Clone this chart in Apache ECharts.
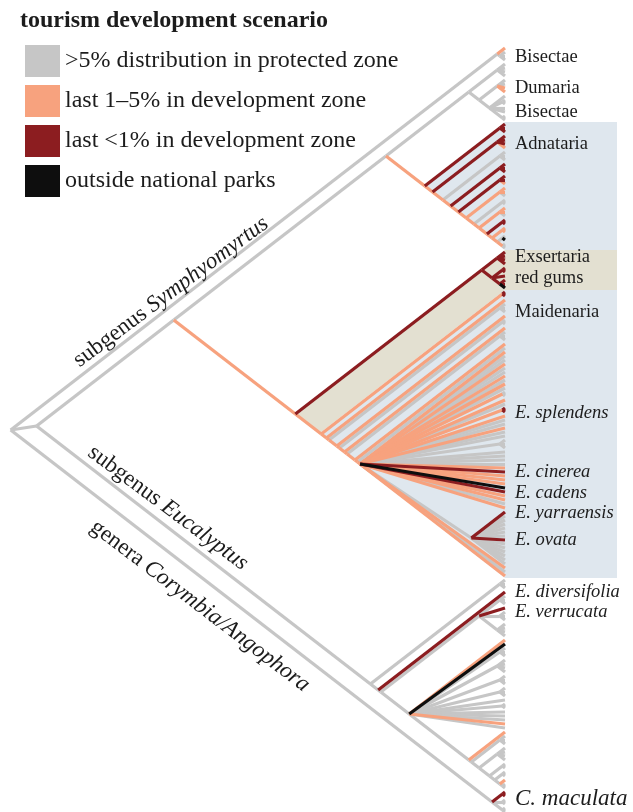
<!DOCTYPE html>
<html><head><meta charset="utf-8">
<script src="https://cdn.jsdelivr.net/npm/echarts@6/dist/echarts.min.js"></script>
<style>html,body{margin:0;padding:0;background:#fff}#c{width:633px;height:812px}</style>
</head><body><div id="c"></div>
<script>
// ---------- DATA ----------
// status classes (legend)
const statusKeys = ['g', 'o', 'r', 'k'];
const statusNames = ['>5% distribution in protected zone', 'last 1–5% in development zone', 'last <1% in development zone', 'outside national parks'];
const statusColors = ['#c6c6c6', '#f7a27e', '#8c1d20', '#0e0e0e'];

// clade structure: a node is [stemStatus, child, child, ...]; a leaf is its stem status
const topPair = ['g', 'o', ['g', 'g', 'g', 'g']];
const bisectaeDumaria = ['g', ['g', 'g', 'g', 'g', 'g'], ['g', ['g', 'g', 'g', 'o', 'o'], ['g', 'g', ['g', 'g', 'g'], 'g', 'g', ['g', 'g', 'g']]]];
const adnatariaSubclades = [['r', 'r', 'r', 'r'], ['r', 'r', 'r', 'r', 'o'], ['g', 'g', 'g', 'g'], ['r', 'r', 'r', 'r'], ['r', 'r', 'r', 'o'], ['o', 'o', 'o', 'g'], ['g', 'g', 'g'], ['o', 'o', 'o', 'g'], ['r', 'r', 'r'], ['o', 'o', 'o'], ['g', 'g', 'k'], 'g', 'g'];
const exsertaria = ['r', ['r', 'r', 'r', 'r', 'r'], ['r', ['r', 'r', 'r'], 'r', ['r', 'r', 'r', 'k']]];
const maidenariaLadder = [['o', 'r', 'r'], 'o', ['g', 'g', 'g', 'g'], 'o', ['g', 'g', 'g'], 'o', ['g', 'g', 'g', 'g'], 'o', 'g'];
const yarraensisOvata = ['g', 'r', 'g', 'g', 'g', 'g', 'g', 'g', 'r', 'g', 'g', 'g', 'g', 'g', 'g'];
const maidenariaFan = ['o', 'g', 'g', 'o', 'g', 'g', 'o', 'g', 'o', 'g', ['o', 'g', 'g'], 'o', 'g', ['o', 'r', 'r'], 'o', 'g', 'g', 'o', 'g', 'g', ['g', 'g', 'g', 'g'], 'g', 'g', 'g', 'g', 'o', 'r', 'o', 'o', 'o', 'k', 'r', 'o', 'o', 'g', 'o', yarraensisOvata, 'o', 'g', 'o'];
const verrucataClade = ['g', ['g', 'g', 'g', 'g'], 'r', ['g', 'g', 'g', 'g'], ['g', 'g', 'g', 'g', 'g']];
const eucalyptusTail = ['o', ['g', 'g', 'g', 'g'], ['g', 'g', 'g', 'g', 'g'], ['g', 'g', 'g'], ['g', 'g', 'g'], 'o', 'g', 'g'];
const eucalyptusFanLeaves = ['o', 'k', ['g', 'g', 'g', 'g'], ['g', 'g', 'g', 'g', 'g'], ['g', 'g', 'g', 'g'], ['g', 'g', 'g', 'g'], 'g', ['g', 'g', 'g'], 'g', 'g', 'g', 'o', 'g'];
const eucalyptusTop = [['g', 'g', 'g', 'g'], 'r', verrucataClade];
const corymbia = ['g', ['r', 'r', 'r'], ['g', 'g', 'g'], ['g', 'g', 'g']];

// right-hand clade labels and the tip row (in tip units) each is centred on
const cladeLabels = ['Bisectae', 'Dumaria', 'Bisectae', 'Adnataria', 'Exsertaria', 'red gums', 'Maidenaria', 'E. splendens', 'E. cinerea', 'E. cadens', 'E. yarraensis', 'E. ovata', 'E. diversifolia', 'E. verrucata', 'C. maculata'];
const cladeLabelTips = [2.25, 10, 16, 24, 52.25, 57.5, 66, 91.25, 106, 111.25, 116.25, 123, 136, 141, 187.75];

// shaded clades: first tip, last tip, whether the shading covers the stem, colour
const shadeFirstTip = [19, 51, 61];
const shadeLastTip = [50, 60, 132];
const shadeFromStem = [false, true, false];
const shadeColors = ['#dfe7ee', '#e3e0d1', '#dfe7ee'];

// ---------- TREE ASSEMBLY ----------
function chain(stem, backbone, subs) {
  if (subs.length === 2) return [stem, subs[0], subs[1]];
  return [stem, subs[0], chain(backbone, backbone, subs.slice(1))];
}
const adnataria = chain('o', 'o', adnatariaSubclades);
const maidenariaPolytomy = ['o'].concat(maidenariaFan);
const maidenaria = chain('o', 'o', maidenariaLadder.concat([maidenariaPolytomy]));
const eucalyptusFan = ['g'].concat(eucalyptusFanLeaves, [chain('g', 'g', eucalyptusTail)]);
const subgenusEucalyptus = chain('g', 'g', eucalyptusTop.concat([eucalyptusFan]));
const symphyomyrtus = ['g', ['g', bisectaeDumaria, adnataria], ['o', exsertaria, maidenaria]];
const tree = ['g', topPair, ['g', symphyomyrtus, subgenusEucalyptus], corymbia];

let tipCounter = 0;
const allNodes = [];
function build(node) {
  let info;
  if (typeof node === 'string') {
    const i = tipCounter++;
    info = { stem: node, a: i, b: i, x: 0, y: i, kids: [] };
  } else {
    const kids = node.slice(1).map(build);
    const a = kids[0].a, b = kids[kids.length - 1].b;
    info = { stem: node[0], a: a, b: b, x: -(b - a), y: (a + b) / 2, kids: kids };
    kids.forEach(k => { k.parent = info; });
  }
  allNodes.push(info);
  return info;
}
const root = build(tree);
const N = tipCounter;

const edges = statusKeys.map(() => []);
allNodes.forEach(n => {
  if (!n.parent) return;
  edges[statusKeys.indexOf(n.stem)].push({ coords: [[n.parent.x, n.parent.y], [n.x, n.y]] });
});

function findClade(first, last) {
  let best = null;
  allNodes.forEach(n => {
    if (!n.kids.length) return;
    const d = Math.abs(n.a - first) + Math.abs(n.b - last);
    if (!best || d < best.d) best = { d: d, n: n };
  });
  return best.n;
}
const shades = shadeFirstTip.map((t, i) => {
  const clade = findClade(t, shadeLastTip[i]);
  const anchor = shadeFromStem[i] && clade.parent ? clade.parent : clade;
  return { top: t, bottom: shadeLastTip[i], anchor: anchor, color: shadeColors[i] };
});

// ---------- LAYOUT ----------
const W = 633, H = 812;
const TIP_X = 505, TIP_TOP = 48, TIP_PITCH = 4, X_PER_SPAN = 0.647 * TIP_PITCH;
const BOX_RIGHT = 617, LABEL_GAP = 10, PAD = 0.5;
const SERIF = '"Liberation Serif", "Times New Roman", "DejaVu Serif", serif';
const INK = '#1c1c1c';

const chart = echarts.init(document.getElementById('c'), null, { renderer: 'canvas', width: W, height: H });

const series = [];
series.push({
  type: 'custom', name: 'shading', coordinateSystem: 'cartesian2d', clip: false, silent: true, z: 1,
  data: shades.map(s => [0, s.top]),
  renderItem: function (params, api) {
    const s = shades[params.dataIndex];
    const A = s.anchor;
    const tp = s.top - PAD, bp = s.bottom + PAD;
    const lx = Math.min(0, bp - A.b);
    const ly = bp - lx / 2;
    const pA = api.coord([A.x, A.y]);
    const pT = api.coord([0, tp]);
    const pB = api.coord([0, bp]);
    const pL = api.coord([lx, ly]);
    return {
      type: 'polygon',
      shape: { points: [pA, pT, [BOX_RIGHT, pT[1]], [BOX_RIGHT, pB[1]], pB, pL] },
      style: { fill: s.color }
    };
  }
});
statusKeys.forEach((k, i) => {
  series.push({
    type: 'lines', name: statusNames[i], coordinateSystem: 'cartesian2d', polyline: false,
    clip: false, silent: true, z: 2 + i, animation: false,
    lineStyle: { color: statusColors[i], width: 3.2, opacity: 1, cap: 'butt' },
    itemStyle: { color: statusColors[i] },
    data: edges[i]
  });
});
series.push({
  type: 'custom', name: 'labels', coordinateSystem: 'cartesian2d', clip: false, silent: true, z: 10,
  data: cladeLabelTips.map(t => [0, t]),
  renderItem: function (params, api) {
    const i = params.dataIndex;
    const name = cladeLabels[i];
    const p = api.coord([0, cladeLabelTips[i]]);
    const italic = /^[A-Z]\. /.test(name);
    const outgroup = i === cladeLabels.length - 1;
    return {
      type: 'text', x: p[0] + LABEL_GAP, y: p[1],
      style: { text: name, fill: INK, fontFamily: SERIF, fontSize: outgroup ? 23 : 18.5, fontStyle: italic ? 'italic' : 'normal', align: 'left', verticalAlign: 'middle' }
    };
  }
});

function slantedLabel(plain, italicPart, cx, cy, angle) {
  return {
    type: 'text', x: cx, y: cy, rotation: angle, z: 20,
    style: {
      text: '{n|' + plain + '}{i|' + italicPart + '}', align: 'center', verticalAlign: 'middle',
      rich: {
        n: { fontFamily: SERIF, fontSize: 23, fontStyle: 'normal', fill: INK },
        i: { fontFamily: SERIF, fontSize: 23, fontStyle: 'italic', fill: INK }
      }
    }
  };
}

const option = {
  animation: false,
  backgroundColor: '#ffffff',
  title: {
    text: 'tourism development scenario', left: 20, top: 9, padding: 0,
    textStyle: { fontFamily: SERIF, fontWeight: 'bold', fontSize: 24, color: INK }
  },
  legend: {
    orient: 'vertical', left: 25, top: 45, padding: 0, itemWidth: 35, itemHeight: 32, itemGap: 8,
    selectedMode: false, icon: 'rect',
    textStyle: { fontFamily: SERIF, fontSize: 24, color: INK },
    data: statusNames.map((n, i) => ({ name: n, icon: 'rect', itemStyle: { color: statusColors[i], borderWidth: 0 } }))
  },
  grid: {
    left: TIP_X - X_PER_SPAN * (N - 1), right: W - TIP_X,
    top: TIP_TOP, bottom: H - (TIP_TOP + TIP_PITCH * (N - 1)), containLabel: false
  },
  xAxis: { type: 'value', min: -(N - 1), max: 0, show: false },
  yAxis: { type: 'value', inverse: true, min: 0, max: N - 1, show: false },
  graphic: [
    slantedLabel('subgenus ', 'Symphyomyrtus', 171, 292, 0.64),
    slantedLabel('subgenus ', 'Eucalyptus', 168, 508, -0.64),
    slantedLabel('genera ', 'Corymbia/Angophora', 200, 606, -0.65)
  ],
  series: series
};
chart.setOption(option);
</script>
</body></html>
